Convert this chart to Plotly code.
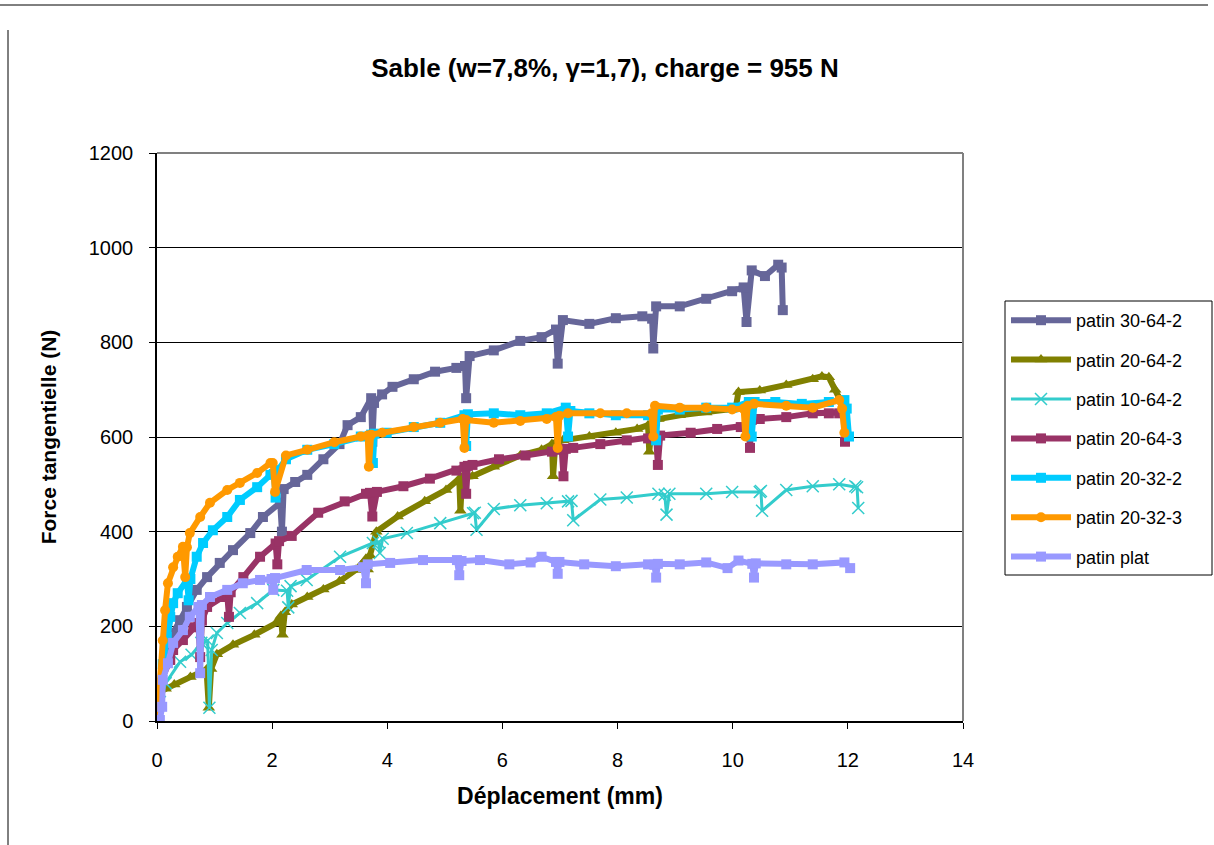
import plotly.graph_objects as go

# displacement (mm) / tangential force (N)
x_30_64_2 = [0, 0.05, 0.12, 0.2, 0.28, 0.40, 0.52, 0.69, 0.87, 1.09, 1.32, 1.62, 1.84, 2.14, 2.17, 2.2, 2.4, 2.61, 2.89,
             3.17, 3.31, 3.54, 3.72, 3.74, 3.77, 3.91, 4.09, 4.46, 4.83, 5.20, 5.35, 5.37, 5.43, 5.85, 6.31, 6.68,
             6.93, 6.96, 7.05, 7.51, 7.97, 8.43, 8.60, 8.62, 8.67, 9.08, 9.54, 9.99, 10.19, 10.24, 10.33, 10.56,
             10.79, 10.85, 10.87]
y_30_64_2 = [0, 60, 120, 160, 186, 213, 241, 277, 304, 334, 361, 397, 431, 461, 400, 490, 505, 520, 553,
             585, 625, 642, 682, 590, 672, 690, 706, 722, 738, 746, 750, 682, 771, 783, 803, 811,
             827, 755, 847, 839, 851, 855, 850, 787, 876, 876, 892, 908, 916, 843, 952, 940,
             964, 958, 868]

x_20_64_2 = [0, 0.03, 0.15, 0.30, 0.58, 0.86, 0.90, 0.94, 1.04, 1.32, 1.69, 2.06, 2.15, 2.18, 2.22, 2.34, 2.61, 2.89,
             3.17, 3.45, 3.63, 3.66, 3.70, 3.81, 4.18, 4.65, 5.02, 5.25, 5.27, 5.30, 5.48, 5.85, 6.31, 6.68, 6.86,
             6.88, 6.92, 7.05, 7.51, 7.97, 8.34, 8.53, 8.55, 8.60, 8.71, 9.08, 9.54, 9.99, 10.05, 10.1, 10.47,
             10.93, 11.39, 11.55, 11.67, 11.78, 11.85]
y_20_64_2 = [0, 60, 68, 77, 93, 109, 28, 110, 141, 161, 182, 206, 222, 182, 230, 246, 262, 278,
             295, 319, 343, 320, 350, 400, 432, 464, 488, 512, 444, 515, 517, 537, 561, 573, 585,
             517, 588, 593, 601, 609, 617, 625, 569, 630, 638, 646, 652, 658, 660, 695, 698,
             710, 722, 728, 726, 700, 682]

x_10_64_2 = [0, 0.05, 0.15, 0.40, 0.60, 0.77, 0.88, 0.91, 0.95, 1.04, 1.22, 1.44, 1.74, 2.02, 2.26, 2.28, 2.32, 2.6,
             3.18, 3.75, 3.85, 3.87, 3.92, 4.34, 4.92, 5.49, 5.52, 5.55, 5.85, 6.31, 6.77, 7.14, 7.20, 7.23, 7.7,
             8.16, 8.71, 8.82, 8.85, 8.9, 9.54, 9.99, 10.47, 10.49, 10.51, 10.93, 11.39, 11.85, 12.13, 12.16, 12.18]
y_10_64_2 = [0, 40, 80, 125, 140, 165, 170, 28, 150, 186, 207, 228, 249, 277, 275, 240, 285, 298,
             347, 376, 378, 355, 385, 397, 418, 439, 440, 404, 448, 456, 460, 464, 465, 424, 468,
             472, 480, 478, 436, 480, 480, 484, 484, 486, 444, 488, 496, 500, 496, 494, 450]

x_20_64_3 = [0, 0.02, 0.05, 0.23, 0.28, 0.45, 0.63, 0.72, 0.75, 0.78, 0.87, 1.15, 1.22, 1.25, 1.28, 1.5, 1.79, 2.06,
             2.09, 2.12, 2.34, 2.80, 3.26, 3.63, 3.70, 3.74, 3.82, 4.28, 4.74, 5.20, 5.34, 5.37, 5.40, 5.48, 5.94,
             6.40, 6.86, 7.03, 7.06, 7.10, 7.23, 7.70, 8.16, 8.53, 8.67, 8.70, 8.74, 9.27, 9.73, 10.14, 10.27,
             10.30, 10.33, 10.47, 10.93, 11.39, 11.67, 11.85, 11.92, 11.95]
y_20_64_3 = [0, 50, 80, 129, 150, 171, 198, 207, 135, 212, 241, 262, 268, 220, 272, 304, 347, 375,
             331, 380, 391, 440, 464, 480, 482, 432, 484, 496, 512, 529, 537, 480, 539, 541, 553,
             561, 569, 573, 517, 575, 577, 585, 593, 597, 601, 541, 603, 609, 617, 621, 625,
             577, 636, 638, 642, 650, 650, 650, 652, 590]

x_20_32_2 = [0, 0.03, 0.10, 0.17, 0.23, 0.28, 0.36, 0.52, 0.55, 0.58, 0.69, 0.80, 0.97, 1.22, 1.44, 1.74, 1.97,
             2.03, 2.06, 2.10, 2.24, 2.61, 3.08, 3.54, 3.72, 3.75, 3.78, 3.99, 4.46, 4.92, 5.34, 5.37, 5.40, 5.85,
             6.31, 6.77, 7.10, 7.14, 7.18, 7.51, 7.97, 8.53, 8.64, 8.67, 8.70, 9.08, 9.54, 9.99, 10.28, 10.33,
             10.38, 10.74, 11.2, 11.67, 11.94, 11.98, 12.02]
y_20_32_2 = [0, 60, 120, 178, 220, 249, 270, 298, 255, 300, 347, 376, 403, 431, 467, 494, 520,
             522, 472, 530, 553, 573, 585, 601, 605, 545, 607, 609, 621, 630, 646, 581, 648, 650,
             646, 650, 662, 601, 655, 650, 646, 646, 648, 593, 658, 658, 662, 662, 674, 601,
             674, 674, 670, 674, 678, 660, 601]

x_20_32_3 = [0, 0.02, 0.05, 0.10, 0.14, 0.19, 0.28, 0.36, 0.45, 0.49, 0.52, 0.57, 0.75, 0.92, 1.22, 1.44, 1.74,
             1.97, 2.01, 2.05, 2.24, 2.61, 3.08, 3.54, 3.66, 3.68, 3.72, 3.91, 4.46, 4.92, 5.31, 5.34, 5.37,
             5.85, 6.31, 6.77, 6.93, 6.96, 6.99, 7.14, 7.7, 8.16, 8.59, 8.62, 8.65, 9.08, 9.54, 9.99, 10.19,
             10.22, 10.26, 10.37, 10.93, 11.39, 11.85, 11.90, 11.94]
y_20_32_3 = [0, 40, 80, 170, 234, 291, 325, 347, 368, 304, 367, 397, 431, 461, 488, 503, 524,
             545, 545, 484, 561, 573, 589, 601, 603, 537, 605, 609, 621, 630, 638, 577, 636,
             630, 634, 638, 642, 577, 645, 650, 650, 650, 650, 601, 666, 662, 662, 658, 660,
             601, 666, 670, 666, 662, 678, 660, 609]

x_plat = [0, 0.05, 0.09, 0.10, 0.19, 0.28, 0.45, 0.57, 0.72, 0.75, 0.78, 0.92, 1.22, 1.49, 1.79, 1.99, 2.02, 2.05,
          2.6, 3.18, 3.58, 3.63, 3.66, 4.05, 4.62, 5.21, 5.25, 5.29, 5.61, 6.12, 6.49, 6.68, 6.93, 6.96, 6.99,
          7.42, 7.97, 8.53, 8.64, 8.67, 8.70, 9.08, 9.54, 9.91, 10.1, 10.34, 10.37, 10.40, 10.93, 11.39, 11.94, 12.04]
y_plat = [0, 2, 30, 87, 122, 165, 192, 220, 241, 101, 245, 262, 277, 291, 298, 300, 277, 302,
          319, 319, 325, 291, 331, 334, 340, 340, 308, 338, 340, 331, 335, 347, 336, 311, 336,
          331, 327, 331, 330, 303, 332, 331, 335, 323, 339, 332, 303, 333, 331, 331, 335, 323]

FONT = "Liberation Sans, Arial, sans-serif"

series = [
    ("patin 30-64-2", x_30_64_2, y_30_64_2, "#666699", "square", 10, 6),
    ("patin 20-64-2", x_20_64_2, y_20_64_2, "#808000", "triangle-up", 11, 6),
    ("patin 10-64-2", x_10_64_2, y_10_64_2, "#33CCCC", "x-thin", 12, 3),
    ("patin 20-64-3", x_20_64_3, y_20_64_3, "#993366", "square", 10, 6),
    ("patin 20-32-2", x_20_32_2, y_20_32_2, "#00CCFF", "square", 10, 6),
    ("patin 20-32-3", x_20_32_3, y_20_32_3, "#FF9900", "circle", 10, 6),
    ("patin plat", x_plat, y_plat, "#9999FF", "square", 10, 6),
]

fig = go.Figure()
for i, (name, xs, ys, col, sym, msize, lw) in enumerate(series):
    mk = dict(color=col, symbol=sym, size=msize)
    if sym == "x-thin":
        mk["line"] = dict(color=col, width=1.5)
    fig.add_trace(go.Scatter(x=xs, y=ys, mode="lines+markers", name=name, legendgroup=str(i),
                             line=dict(color=col, width=lw), marker=mk))

# paper coords from pixel positions of the plot area (x 157..963, y 721..153)
def px(p):
    return (p - 157) / 806

def py(p):
    return (721 - p) / 568

shapes = [
    # grey top/right frame of the plot area
    dict(type="line", xref="paper", yref="paper", x0=0, x1=1, y0=1, y1=1, line=dict(color="#808080", width=2)),
    dict(type="line", xref="paper", yref="paper", x0=1, x1=1, y0=0, y1=1, line=dict(color="#808080", width=2)),
    # legend frame
    dict(type="rect", xref="paper", yref="paper", x0=px(1005), x1=px(1212), y0=py(575), y1=py(301),
         line=dict(color="black", width=1)),
    # page rules around the chart
    dict(type="line", xref="paper", yref="paper", x0=px(0), x1=px(1208), y0=py(5), y1=py(5),
         line=dict(color="black", width=1)),
    dict(type="line", xref="paper", yref="paper", x0=px(8), x1=px(8), y0=py(30), y1=py(850),
         line=dict(color="black", width=1)),
]

fig.update_layout(
    width=1214, height=845,
    margin=dict(l=157, r=251, t=153, b=124),
    paper_bgcolor="white", plot_bgcolor="white",
    font=dict(family=FONT, color="black", size=20),
    title=dict(text="<b>Sable (w=7,8%, γ=1,7), charge = 955 N</b>", x=px(605), xref="paper", xanchor="center",
               y=1 - 68 / 845, yanchor="middle", font=dict(size=26, family=FONT)),
    showlegend=True,
    legend=dict(x=px(1006), y=py(302), xanchor="left", yanchor="top", bgcolor="rgba(0,0,0,0)",
                borderwidth=0, font=dict(size=18, family=FONT), tracegroupgap=13, itemwidth=60),
    shapes=shapes,
)
fig.update_xaxes(range=[0, 14], dtick=2, showline=True, linecolor="black", linewidth=2, ticks="outside",
                 ticklen=6, tickcolor="black", showgrid=False, zeroline=False, ticklabelstandoff=14,
                 title=dict(text="<b>Déplacement (mm)</b>", standoff=18, font=dict(size=23)))
fig.update_yaxes(range=[0, 1200], dtick=200, showline=True, linecolor="black", linewidth=1.5, ticks="outside",
                 ticklen=6, tickcolor="black", showgrid=True, gridcolor="black", gridwidth=1, zeroline=False,
                 ticklabelstandoff=12,
                 title=dict(text="<b>Force tangentielle (N)</b>", standoff=26, font=dict(size=21)))

fig.write_html("out.html", config={"displayModeBar": False},
               post_script="document.body.style.margin='0';")
